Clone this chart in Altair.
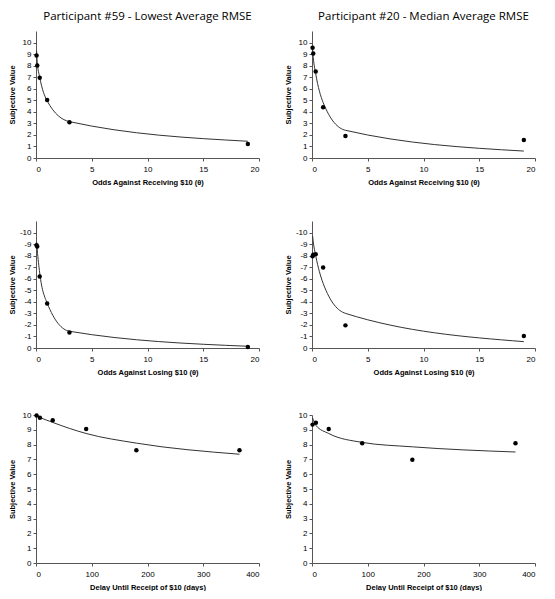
import altair as alt
import pandas as pd

# ---- data ----
odds = [0.0526, 0.111, 0.333, 1, 3, 19]          # odds against (theta)
delays = [1, 7, 30, 90, 180, 365]                 # days

p59_gain_obs = [8.88, 8.02, 6.95, 5.03, 3.10, 1.21]
p59_gain_fit = [9.3, 8.3, 7.0, 4.95, 3.15, 1.45]
p20_gain_obs = [9.54, 9.05, 7.5, 4.40, 1.90, 1.55]
p20_gain_fit = [9.35, 8.7, 7.3, 4.8, 2.4, 0.6]

p59_loss_obs = [8.9, 8.8, 6.2, 3.86, 1.35, 0.09]
p59_loss_fit = [9.2, 8.5, 6.5, 3.9, 1.45, 0.15]
p20_loss_obs = [7.95, 8.07, 8.13, 6.97, 1.96, 1.04]
p20_loss_fit = [9.7, 9.2, 8.0, 5.6, 3.0, 0.55]

p59_delay_obs = [9.97, 9.82, 9.64, 9.06, 7.62, 7.62]
p59_delay_fit = [9.98, 9.85, 9.5, 8.75, 8.1, 7.35]
p20_delay_obs = [9.35, 9.48, 9.06, 8.09, 6.97, 8.09]
p20_delay_fit = [9.8, 9.3, 8.75, 8.15, 7.85, 7.5]

odds_ticks = [0, 5, 10, 15, 20]
delay_ticks = [0, 100, 200, 300, 400]
value_ticks = list(range(0, 11))

titles = ["Participant #59 - Lowest Average RMSE", "Participant #20 - Median Average RMSE"]
x_titles = ["Odds Against Receiving $10 (\u03b8)", "Odds Against Losing $10 (\u03b8)",
            "Delay Until Receipt of $10 (days)"]

W = 223
FONT = "Liberation Sans"


def panel(xs, obs, fit, xdom, xticks, xtitle, ydom, h, loss=False, title=None):
    df = pd.DataFrame({"x": xs, "obs": obs, "fit": fit})
    xenc = alt.X("x:Q", scale=alt.Scale(domain=xdom, nice=False, zero=False),
                 axis=alt.Axis(values=xticks, title=xtitle, labelPadding=4,
                               titlePadding=5))
    yax = dict(values=value_ticks, title="Subjective Value", minExtent=17,
               maxExtent=17, labelPadding=2, titlePadding=3)
    if loss:
        yax["labelExpr"] = "datum.value == 0 ? '0' : '-' + datum.label"
    ysc = alt.Scale(domain=ydom, nice=False, zero=True)
    base = alt.Chart(df).encode(x=xenc)
    line = base.mark_line(interpolate="monotone", color="#333333",
                          strokeWidth=1).encode(
        y=alt.Y("fit:Q", scale=ysc, axis=alt.Axis(**yax)))
    pts = base.mark_circle(size=20, color="black", opacity=1).encode(
        y=alt.Y("obs:Q", scale=ysc, axis=alt.Axis(**yax)))
    ch = alt.layer(line, pts).properties(width=W, height=h)
    if title:
        ch = ch.properties(title=alt.TitleParams(title))
    return ch


left = alt.vconcat(
    panel(odds, p59_gain_obs, p59_gain_fit, [0, 20], odds_ticks, x_titles[0], [0, 11], 127, title=titles[0]),
    panel(odds, p59_loss_obs, p59_loss_fit, [0, 20], odds_ticks, x_titles[1], [0, 11], 127, loss=True),
    panel(delays, p59_delay_obs, p59_delay_fit, [0, 400], delay_ticks, x_titles[2], [0, 10], 148),
    spacing=35,
)
right = alt.vconcat(
    panel(odds, p20_gain_obs, p20_gain_fit, [0, 20], odds_ticks, x_titles[0], [0, 11], 127, title=titles[1]),
    panel(odds, p20_loss_obs, p20_loss_fit, [0, 20], odds_ticks, x_titles[1], [0, 11], 127, loss=True),
    panel(delays, p20_delay_obs, p20_delay_fit, [0, 400], delay_ticks, x_titles[2], [0, 10], 148),
    spacing=35,
)

chart = alt.hconcat(left, right, spacing=24).properties(
    padding={"top": 2, "left": 0, "right": 0, "bottom": 0}
).configure_view(
    stroke=None
).configure_axis(
    grid=False, labelFont=FONT, labelFontSize=8, labelColor="black",
    titleFont=FONT, titleFontSize=7.5, titleFontWeight="bold", titleColor="black",
    domainColor="#555555", tickColor="#555555", tickSize=3, domainWidth=1,
).configure_title(
    font="Open Sans", fontSize=11.5, fontWeight="normal", color="black",
    anchor="middle", offset=9,
)

chart.save("out.html", embed_options={"renderer": "svg", "actions": False})
